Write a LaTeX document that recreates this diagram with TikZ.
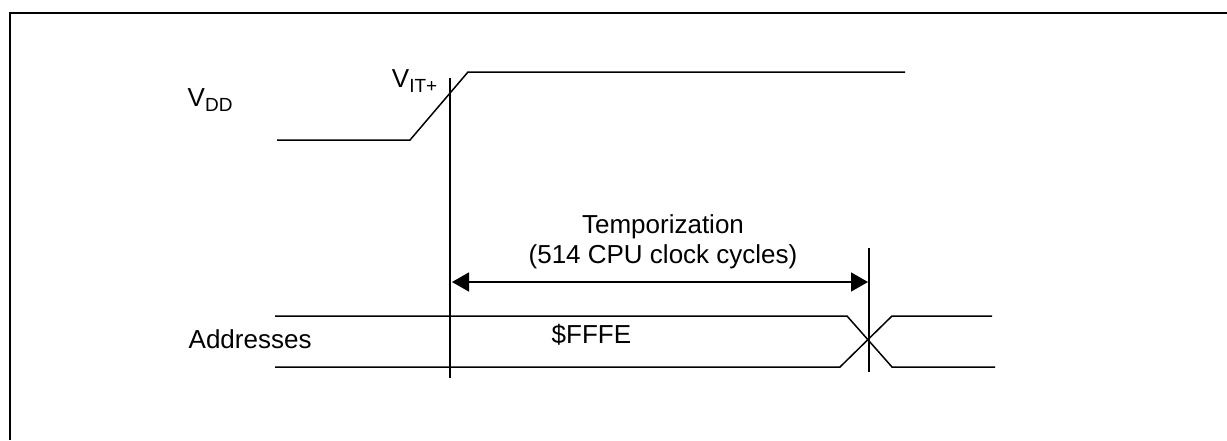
\documentclass[tikz,border=0pt]{standalone}
\usepackage{fontspec}
\setmainfont{Liberation Sans}
\usetikzlibrary{arrows.meta}

\newcommand{\sublbl}[1]{\raisebox{-5pt}{\fontsize{19}{19}\selectfont #1}}

\begin{document}
\begin{tikzpicture}[x=1pt, y=-1pt, line width=1.4pt,
    lbl/.style={inner sep=0pt, font=\fontsize{26}{30}\selectfont},
    wave/.style={line width=1.5pt},
    edge/.style={line width=1.5pt}]
    % --- 定义坐标和参数 ---
    \def\tRise{450}     % V_DD 过 V_IT+ 的时刻
    \def\tEnd{869}      % 延时结束
    \def\busTop{316}    % 总线上沿
    \def\busBot{367}    % 总线下沿

    % --- 边框 ---
    \useasboundingbox (0,0) rectangle (1227,440);
    \draw[line width=2pt] (10,440) -- (10,13) -- (1227,13);

    % --- 信号名称 ---
    \node[lbl, anchor=base west] (vdd) at (187,106) {V\sublbl{DD}};
    \node[lbl, anchor=base west] (addr) at (188,348) {Addresses};

    % --- V_DD 波形 ---
    \draw[wave] (277,140) -- (410,140) -- (468,72) -- (905,72);
    \node[lbl, anchor=base east] (vit) at (438,87) {V\sublbl{IT+}};

    % --- 时间标记线 ---
    \coordinate (rtop) at (\tRise,78);
    \coordinate (rbot) at (\tRise,378);
    \coordinate (etop) at (\tEnd,248);
    \coordinate (ebot) at (\tEnd,372);
    \draw[edge] (rtop) -- (rbot);
    \draw[edge] (etop) -- (ebot);

    % --- 延时箭头和标签 ---
    \coordinate (a1) at (\tRise+2,282);
    \coordinate (a2) at (\tEnd-1,282);
    \draw[edge, {Triangle[length=17pt,width=19pt]}-{Triangle[length=17pt,width=19pt]}]
        (a1) -- (a2);
    \node[lbl, anchor=base] (tmp) at (663,233) {Temporization};
    \node[lbl, anchor=base] (cyc) at (663,263) {(514 CPU clock cycles)};

    % --- 地址总线 ---
    \draw[wave] (275,\busTop) -- (847,\busTop) -- (892,\busBot) -- (995,\busBot);
    \draw[wave] (275,\busBot) -- (840,\busBot) -- (892,\busTop) -- (992,\busTop);
    \node[lbl, anchor=base west] (ffe) at (551,343) {\$FFFE};

\end{tikzpicture}
\end{document}
